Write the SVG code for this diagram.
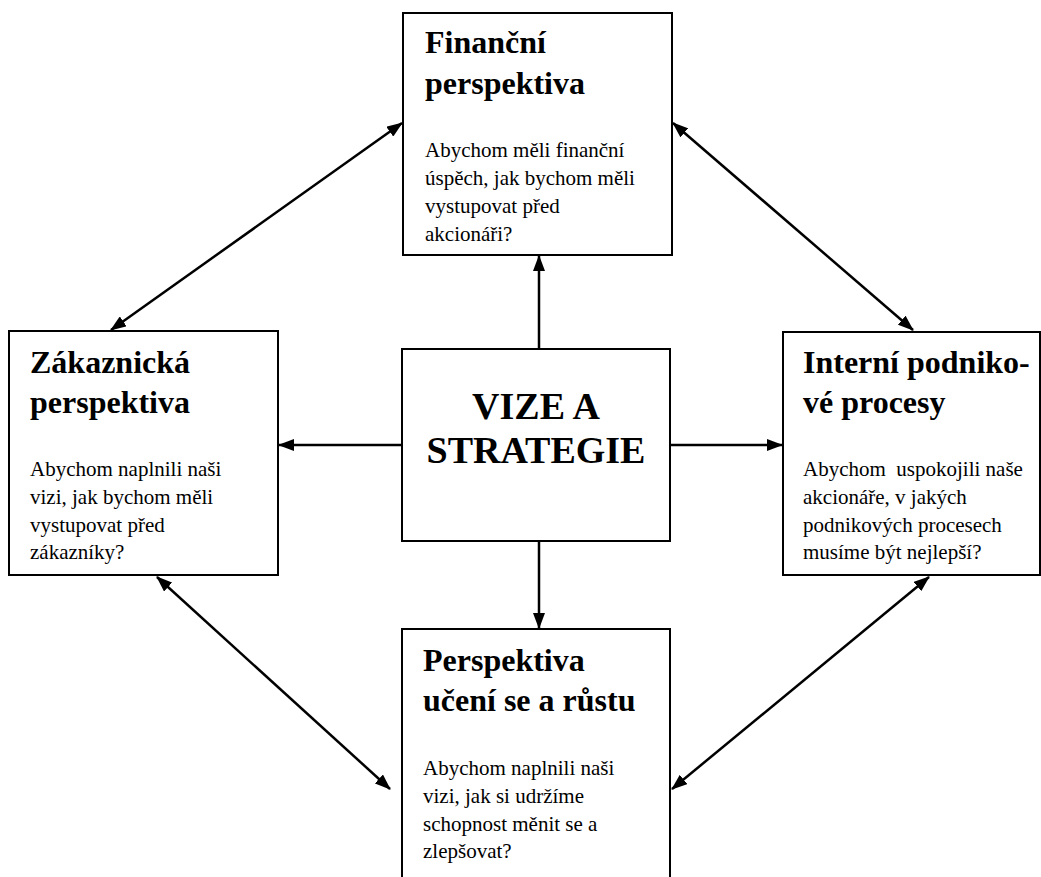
<svg xmlns="http://www.w3.org/2000/svg" width="1041" height="877" viewBox="0 0 1041 877">
<style>
.box{fill:#fff;stroke:#000;stroke-width:2}
.t{font-family:"Liberation Serif","Times New Roman",serif;font-weight:bold;font-size:32px;fill:#000}
.b{font-family:"Liberation Serif","Times New Roman",serif;font-size:21px;fill:#000;white-space:pre}
.c{font-family:"Liberation Serif","Times New Roman",serif;font-weight:bold;font-size:38px;fill:#000;text-anchor:middle}
.ar{stroke:#000;stroke-width:2.5;fill:none;marker-end:url(#ah)}
.ar2{stroke:#000;stroke-width:2.5;fill:none;marker-start:url(#ah);marker-end:url(#ah)}
</style>
<defs>
<marker id="ah" viewBox="0 0 16 12" refX="15" refY="6" markerWidth="16" markerHeight="12" markerUnits="userSpaceOnUse" orient="auto-start-reverse">
<path d="M0,0 L16,6 L0,12 z" fill="#000"/>
</marker>
</defs>
<rect width="1041" height="877" fill="#fff"/>
<g id="connectors">
<line class="ar" x1="539" y1="349" x2="539" y2="256"/>
<line class="ar" x1="402" y1="445" x2="279" y2="445"/>
<line class="ar" x1="670" y1="445" x2="782" y2="445"/>
<line class="ar" x1="539" y1="541" x2="539" y2="628"/>
<line class="ar2" x1="402" y1="123" x2="111" y2="330"/>
<line class="ar2" x1="673" y1="123" x2="913" y2="330"/>
<line class="ar2" x1="157" y1="577" x2="390" y2="789"/>
<line class="ar2" x1="929" y1="577" x2="672" y2="789"/>
</g>
<g id="financni">
<rect class="box" x="403" y="13" width="269" height="242"/>
<text class="t" x="425" y="53">Finanční</text>
<text class="t" x="425" y="94">perspektiva</text>
<text class="b" x="425" y="157">Abychom měli finanční</text>
<text class="b" x="425" y="185">úspěch, jak bychom měli</text>
<text class="b" x="425" y="213">vystupovat před</text>
<text class="b" x="425" y="241">akcionáři?</text>
</g>
<g id="zakaznicka">
<rect class="box" x="9" y="331" width="269" height="244"/>
<text class="t" x="30" y="373">Zákaznická</text>
<text class="t" x="30" y="413">perspektiva</text>
<text class="b" x="30" y="476">Abychom naplnili naši</text>
<text class="b" x="30" y="504">vizi, jak bychom měli</text>
<text class="b" x="30" y="532">vystupovat před</text>
<text class="b" x="30" y="559">zákazníky?</text>
</g>
<g id="vize">
<rect class="box" x="402" y="349" width="268" height="192"/>
<text class="c" x="536" y="419">VIZE A</text>
<text class="c" x="536" y="463">STRATEGIE</text>
</g>
<g id="interni">
<rect class="box" x="783" y="332" width="257" height="243"/>
<text class="t" x="803" y="373">Interní podniko-</text>
<text class="t" x="803" y="413">vé procesy</text>
<text class="b" x="803" y="476">Abychom  uspokojili naše</text>
<text class="b" x="803" y="504">akcionáře, v jakých</text>
<text class="b" x="803" y="532">podnikových procesech</text>
<text class="b" x="803" y="559">musíme být nejlepší?</text>
</g>
<g id="uceni">
<rect class="box" x="402" y="629" width="268" height="260"/>
<text class="t" x="423" y="671">Perspektiva</text>
<text class="t" x="423" y="711">učení se a růstu</text>
<text class="b" x="423" y="775">Abychom naplnili naši</text>
<text class="b" x="423" y="803">vizi, jak si udržíme</text>
<text class="b" x="423" y="831">schopnost měnit se a</text>
<text class="b" x="423" y="858">zlepšovat?</text>
</g>
</svg>
